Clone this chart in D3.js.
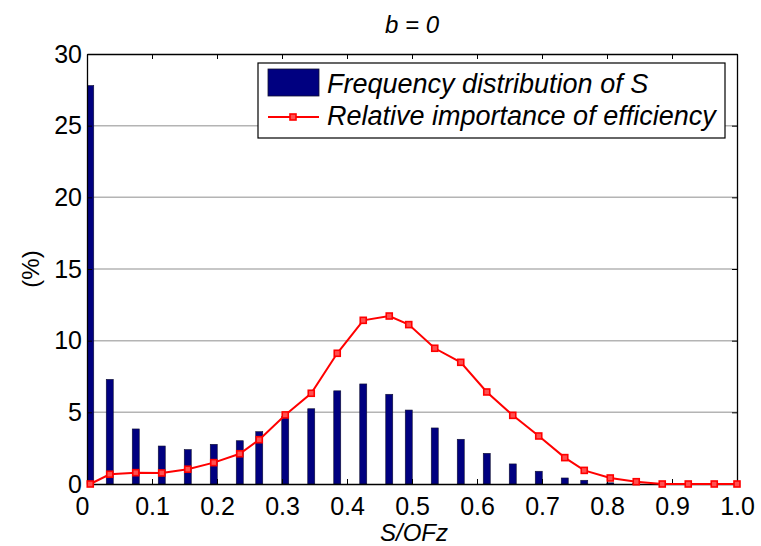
<!DOCTYPE html>
<html>
<head>
<meta charset="utf-8" />
<title>b = 0</title>
<script src="https://cdn.jsdelivr.net/npm/d3@7"></script>
<style>
  html, body { margin: 0; padding: 0; background: #fff; }
  text { font-family: Arial, "Liberation Sans", sans-serif; fill: #000; }
</style>
</head>
<body>
<script>
// data
var xs = [0.005, 0.035, 0.075, 0.115, 0.155, 0.195, 0.235, 0.265, 0.305, 0.345,
          0.385, 0.425, 0.465, 0.495, 0.535, 0.575, 0.615, 0.655, 0.695, 0.735,
          0.765, 0.805, 0.845, 0.885, 0.925, 0.965, 1.0];
var freqS = [27.8, 7.3, 3.84, 2.65, 2.4, 2.77, 3.02, 3.65, 4.7, 5.25,
             6.5, 6.98, 6.26, 5.16, 3.91, 3.12, 2.14, 1.4, 0.89, 0.42,
             0.26, 0.08, 0.03, 0, 0, 0, 0];
var relImp = [0, 0.68, 0.79, 0.77, 1.03, 1.49, 2.11, 3.09, 4.82, 6.33,
              9.12, 11.42, 11.72, 11.12, 9.47, 8.49, 6.42, 4.79, 3.35, 1.84,
              0.95, 0.42, 0.16, 0, 0, 0, 0];
var xTicks = [0, 0.1, 0.2, 0.3, 0.4, 0.5, 0.6, 0.7, 0.8, 0.9, 1.0];
var yTicks = [0, 5, 10, 15, 20, 25, 30];
var legendLabels = ['Frequency distribution of S', 'Relative importance of efficiency'];

var width = 761, height = 546;
var pLeft = 87, pRight = 737, pTop = 54, pBottom = 484;

var svg = d3.select('body').append('svg').attr('width', width).attr('height', height);

var x = d3.scaleLinear().domain([0, 1]).range([pLeft, pRight]);
var y = d3.scaleLinear().domain([0, 30]).range([pBottom, pTop]);

svg.append('defs').append('clipPath').attr('id', 'plot')
  .append('rect').attr('x', pLeft).attr('y', pTop).attr('width', pRight - pLeft).attr('height', pBottom - pTop);

// grid
svg.append('g').selectAll('line').data(yTicks.filter(function(d){ return d > 0 && d < 30; }))
  .enter().append('line')
  .attr('x1', pLeft).attr('x2', pRight)
  .attr('y1', function(d){ return y(d); }).attr('y2', function(d){ return y(d); })
  .attr('stroke', '#b4b4b4').attr('stroke-width', 1.5);

// bars
var bw = 7;
svg.append('g').attr('clip-path', 'url(#plot)').selectAll('rect').data(freqS)
  .enter().append('rect')
  .attr('x', function(d, i){ return x(xs[i]) - bw / 2; })
  .attr('y', function(d){ return y(d); })
  .attr('width', bw)
  .attr('height', function(d){ return y(0) - y(d); })
  .attr('fill', '#000080')
  .attr('stroke', '#101030').attr('stroke-width', 0.6);

// axes with inward ticks
var fmtX = function(d){ return d === 0 ? '0' : d3.format('.1f')(d); };
var axB = d3.axisBottom(x).tickValues(xTicks).tickFormat(fmtX).tickSizeInner(-5).tickSizeOuter(0).tickPadding(13);
var axT = d3.axisTop(x).tickValues(xTicks).tickFormat('').tickSizeInner(-5).tickSizeOuter(0);
var axL = d3.axisLeft(y).tickValues(yTicks).tickFormat(d3.format('d')).tickSizeInner(-5).tickSizeOuter(0).tickPadding(5);
var axR = d3.axisRight(y).tickValues(yTicks).tickFormat('').tickSizeInner(-5).tickSizeOuter(0);

function styleAxis(g) {
  g.select('.domain').attr('stroke', '#000').attr('stroke-width', 1.3);
  g.selectAll('.tick line').attr('stroke', '#000');
  g.selectAll('.tick text').attr('font-size', 25).attr('font-family', 'Arial, "Liberation Sans", sans-serif').attr('fill', '#000');
}
var gB = svg.append('g').attr('transform', 'translate(0,' + pBottom + ')').call(axB).call(styleAxis);
gB.selectAll('.tick text').filter(function(d){ return d === 0; }).attr('dx', -5);
svg.append('g').attr('transform', 'translate(0,' + pTop + ')').call(axT).call(styleAxis);
svg.append('g').attr('transform', 'translate(' + pLeft + ',0)').call(axL).call(styleAxis);
svg.append('g').attr('transform', 'translate(' + pRight + ',0)').call(axR).call(styleAxis);

// red line
var line = d3.line().x(function(d, i){ return x(xs[i]); }).y(function(d){ return y(d); });
svg.append('path').datum(relImp).attr('d', line)
  .attr('fill', 'none').attr('stroke', '#ff0000').attr('stroke-width', 2);
svg.append('g').selectAll('rect').data(relImp).enter().append('rect')
  .attr('x', function(d, i){ return x(xs[i]) - 3; })
  .attr('y', function(d){ return y(d) - 3; })
  .attr('width', 6).attr('height', 6)
  .attr('fill', '#ff5050').attr('stroke', '#ff0000').attr('stroke-width', 1.6);

// titles
svg.append('text').attr('x', 412).attr('y', 33).attr('text-anchor', 'middle')
  .attr('font-size', 24).attr('font-style', 'italic').text('b = 0');
svg.append('text').attr('x', 414).attr('y', 541).attr('text-anchor', 'middle')
  .attr('font-size', 24).attr('font-style', 'italic').text('S/OFz');
svg.append('text').attr('transform', 'translate(39,' + (pTop + pBottom) / 2 + ') rotate(-90)')
  .attr('text-anchor', 'middle').attr('font-size', 24).text('(%)');

// legend
var lg = svg.append('g');
lg.append('rect').attr('x', 258).attr('y', 63).attr('width', 467).attr('height', 75)
  .attr('fill', '#fff').attr('stroke', '#000').attr('stroke-width', 1.2);
lg.append('rect').attr('x', 268).attr('y', 69).attr('width', 51).attr('height', 27)
  .attr('fill', '#000080').attr('stroke', '#101030').attr('stroke-width', 0.8);
lg.append('line').attr('x1', 268).attr('x2', 319).attr('y1', 117).attr('y2', 117)
  .attr('stroke', '#ff0000').attr('stroke-width', 2);
lg.append('rect').attr('x', 290).attr('y', 114).attr('width', 6).attr('height', 6)
  .attr('fill', '#ff5050').attr('stroke', '#ff0000').attr('stroke-width', 1.6);
lg.selectAll('text.lab').data(legendLabels).enter().append('text').attr('class', 'lab')
  .attr('x', 327).attr('y', function(d, i){ return 93 + i * 32; })
  .attr('font-size', 27).attr('font-style', 'italic').text(function(d){ return d; });
</script>
</body>
</html>
